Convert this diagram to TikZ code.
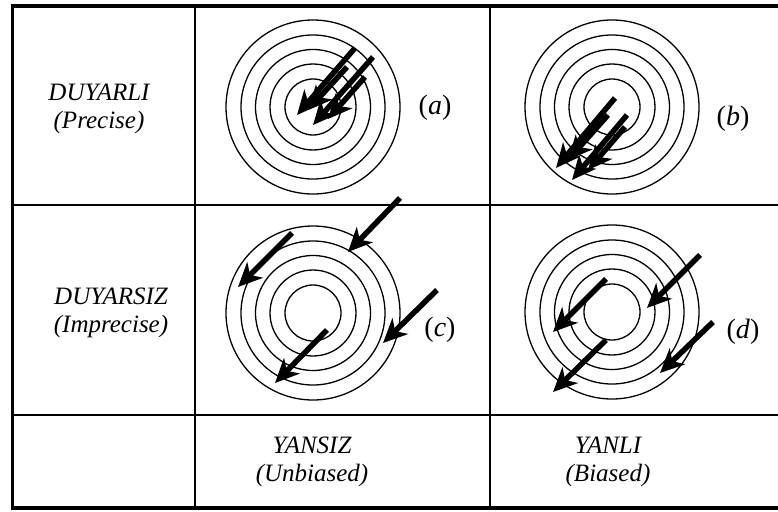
\documentclass[tikz,border=0pt]{standalone}
\usepackage{fontspec}
\setmainfont{Liberation Serif}
\usetikzlibrary{arrows.meta}

\tikzset{
  ring/.style={line width=1.3pt},
  hit/.style={-{Stealth[length=24pt,width=22pt,inset=7pt]}, line width=5.5pt},
  caseLabel/.style={font=\fontsize{28}{32}\selectfont},
  axisLabel/.style={align=center, font=\itshape\fontsize{25}{28}\selectfont}
}

\begin{document}
\begin{tikzpicture}[x=1pt, y=-1pt, line cap=butt, line join=miter]
  \useasboundingbox (0,0) rectangle (778,511);

  % --- table frame ---
  \draw[line width=1.5pt] (195,6) -- (195,508);
  \draw[line width=1.5pt] (490,6) -- (490,508);
  \draw[line width=1.3pt] (12.5,205) -- (790,205);
  \draw[line width=1.3pt] (12.5,415) -- (790,415);
  \draw[line width=3.5pt] (12.5,6) rectangle (800,508);

  % --- row / column headings ---
  \node[axisLabel] (precise)   at (99,109)  {DUYARLI\\(Precise)};
  \node[axisLabel] (imprecise) at (111,313) {DUYARSIZ\\(Imprecise)};
  \node[axisLabel] (unbiased)  at (312,462) {YANSIZ\\(Unbiased)};
  \node[axisLabel] (biased)    at (608,462) {YANLI\\(Biased)};

  % --- (a) precise, unbiased ---
  \begin{scope}[shift={(313,107)}]
    \foreach \r in {28,43,57.5,72,87}
      \draw[ring] (0,0) circle (\r);
  \end{scope}
  \draw[hit] (355,48) -- (297,115);
  \draw[hit] (373,57) -- (313,125);
  \draw[hit] (347,67) -- (308,110);
  \draw[hit] (365,77) -- (328,119);
  \node[caseLabel] (lblA) at (435,108) {(\textit{a})};

  % --- (b) precise, biased ---
  \begin{scope}[shift={(612,107)}]
    \foreach \r in {28,43,57.5,72,87}
      \draw[ring] (0,0) circle (\r);
  \end{scope}
  \draw[hit] (615,98) -- (556,168);
  \draw[hit] (608,115) -- (568,160);
  \draw[hit] (627,115) -- (572,180);
  \draw[hit] (625,127) -- (588,170);
  \node[caseLabel] (lblB) at (733,119) {(\textit{b})};

  % --- (c) imprecise, unbiased ---
  \begin{scope}[shift={(313,313)}]
    \foreach \r in {28,43,57.5,72,87}
      \draw[ring] (0,0) circle (\r);
  \end{scope}
  \draw[hit] (400,198) -- (348,252);
  \draw[hit] (292,233) -- (238,287);
  \draw[hit] (437,290) -- (383,343);
  \draw[hit] (327,330) -- (275,383);
  \node[caseLabel] (lblC) at (440,330) {(\textit{c})};

  % --- (d) imprecise, biased ---
  \begin{scope}[shift={(612,312)}]
    \foreach \r in {28,43,57.5,72,87}
      \draw[ring] (0,0) circle (\r);
  \end{scope}
  \draw[hit] (700,255) -- (647,308);
  \draw[hit] (606,279) -- (553,332);
  \draw[hit] (713,322) -- (660,373);
  \draw[hit] (606,340) -- (553,392);
  \node[caseLabel] (lblD) at (743,332) {(\textit{d})};
\end{tikzpicture}
\end{document}
